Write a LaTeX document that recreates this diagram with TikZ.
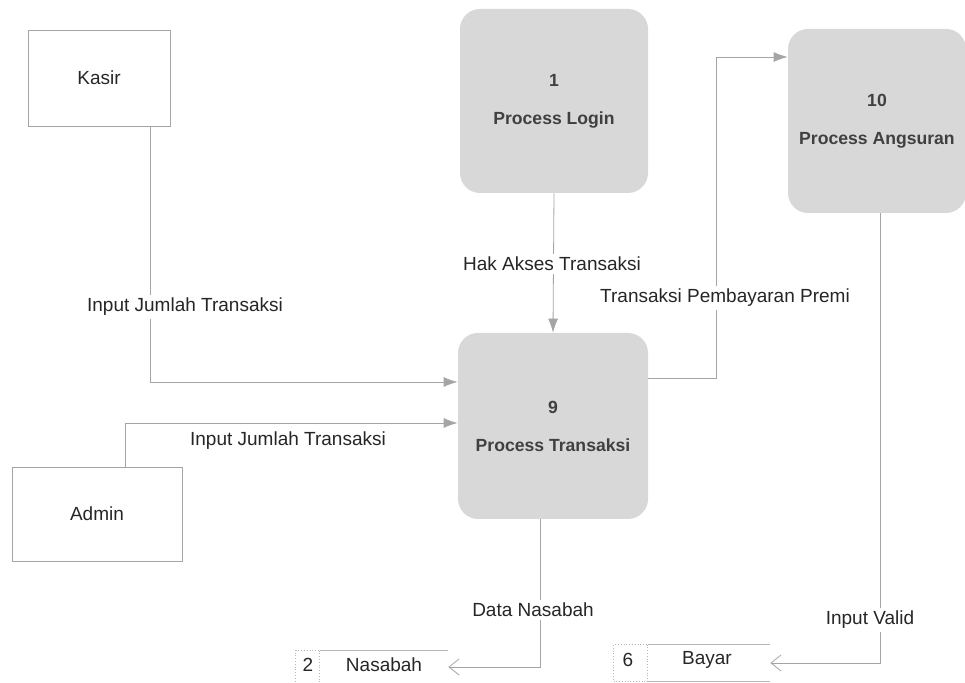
\documentclass[tikz,border=0pt]{standalone}
\usepackage{fontspec}
\setmainfont{Liberation Sans}
\usepackage{xcolor}
\usetikzlibrary{arrows.meta, positioning, calc}
\definecolor{flowgray}{RGB}{165,165,165}
\definecolor{procgray}{RGB}{216,216,216}

\begin{document}
\begin{tikzpicture}[x=0.5pt, y=-0.5pt,
    every node/.style={font=\fontsize{9.5}{11}\selectfont, text=black!85},
    entity/.style={rectangle, draw=flowgray, line width=0.4pt, minimum width=71pt,
                   minimum height=48pt, inner sep=0pt},
    proc/.style={rectangle, rounded corners=10pt, fill=procgray, minimum width=94pt,
                 minimum height=92pt, align=center, inner sep=0pt,
                 font=\fontsize{8.8}{10}\selectfont\bfseries, text=black!75},
    store/.style={rectangle, minimum height=16pt, inner sep=0pt},
    flowlbl/.style={fill=white, inner sep=1.5pt},
    flow/.style={draw=flowgray, line width=0.4pt},
    inflow/.style={flow, -{Latex[length=7pt, width=5pt]}},
    storeflow/.style={flow, -{Straight Barb[length=5pt, width=8pt]}},
    storeline/.style={draw=flowgray!80, line width=0.4pt},
    storecell/.style={draw=flowgray!80, line width=0.4pt, densely dotted}
]
\useasboundingbox (0,0) rectangle (965,683);

% external entities
\node[entity] (kasir) at (99,78) {Kasir};
\node[entity, minimum width=85pt, minimum height=47pt] (admin) at (97,514) {Admin};

% processes
\node[proc] (login) at (554,101) {1\\[9pt]Process Login};
\node[proc, minimum width=95pt, minimum height=93pt] (trans) at (553,426) {9\\[9pt]Process Transaksi};
\node[proc, minimum width=89pt] (angs) at (877,121) {10\\[9pt]Process Angsuran};

% data stores
\node[store, minimum width=76pt] (nasabah) at (372,667) {};
\node (nasabahid) at (308,665) {2};
\node (nasabahlbl) at (384,665) {Nasabah};
\draw[storeline] (nasabah.north east) -- ([xshift=12pt]nasabah.north west);
\draw[storeline] (nasabah.south east) -- ([xshift=12pt]nasabah.south west);
\draw[storecell] ([xshift=12pt]nasabah.north west) rectangle (nasabah.south west);

\node[store, minimum width=78pt, minimum height=18pt] (bayar) at (692,663) {};
\node (bayarid) at (628,660) {6};
\node (bayarlbl) at (707,660) {Bayar};
\draw[storeline] (bayar.north east) -- ([xshift=17pt]bayar.north west);
\draw[storeline] (bayar.south east) -- ([xshift=17pt]bayar.south west);
\draw[storecell] ([xshift=17pt]bayar.north west) rectangle (bayar.south west);

% data flows
\draw[inflow] ([xshift=25.5pt]kasir.south) |- ([yshift=22pt]trans.west);
\draw[inflow] ([xshift=14pt]admin.north) |- ([yshift=1.5pt]trans.west);
\draw[inflow] (login.south) -- (trans.north);
\draw[inflow] ([yshift=24pt]trans.east) -- ++(68,0) |- ([yshift=32pt]angs.west);
\draw[storeflow] ([xshift=-6.5pt]trans.south) |- (nasabah.east);
\draw[storeflow] ([xshift=1.5pt]angs.south) |- (bayar.east);

% flow labels
\node[flowlbl] (kasirlbl) at (185,307) {Input Jumlah Transaksi};
\node[flowlbl] (adminlbl) at (288,441) {Input Jumlah Transaksi};
\node[flowlbl] (aksesbl) at (552,264) {Hak Akses Transaksi};
\node[flowlbl] (premilbl) at (725,298) {Transaksi Pembayaran Premi};
\node[flowlbl] (datalbl) at (533,610) {Data Nasabah};
\node[flowlbl] (validlbl) at (870,620) {Input Valid};
\end{tikzpicture}
\end{document}
